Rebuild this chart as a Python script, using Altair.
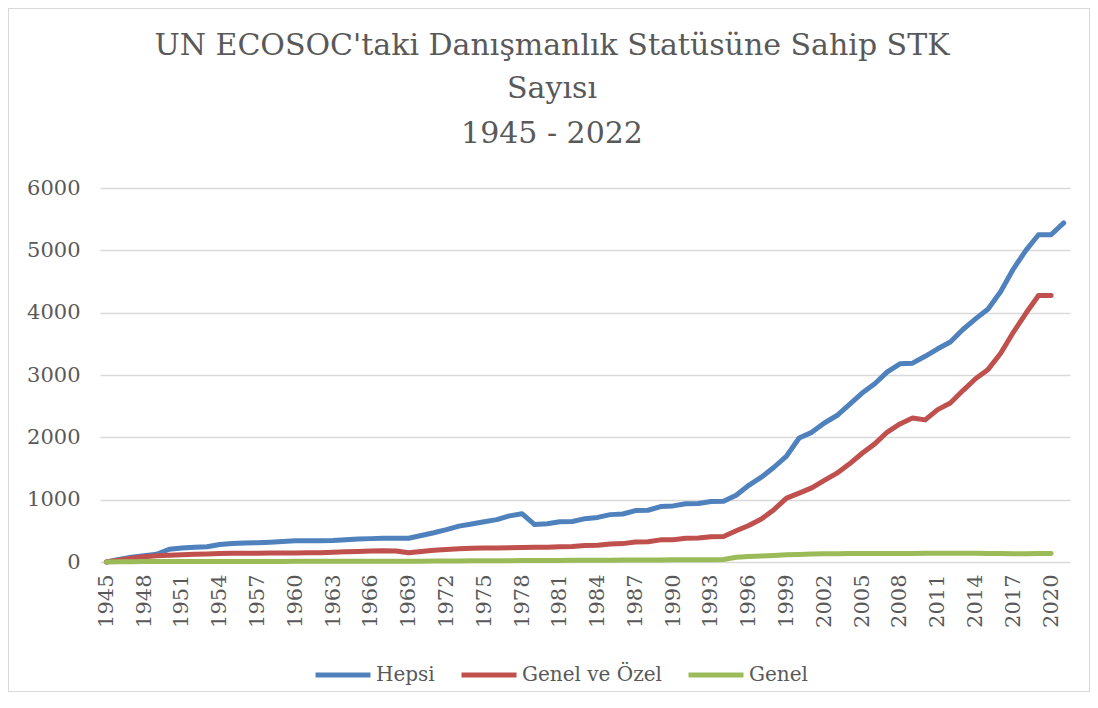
import altair as alt
import pandas as pd

years = list(range(1945, 2022))

hepsi = [0, 40, 75, 100, 125, 205, 225, 235, 245, 280,
         295, 305, 310, 318, 330, 340, 340, 340, 345, 358,
         368, 375, 382, 382, 380, 425, 470, 520, 575, 610,
         645, 680, 740, 775, 600, 615, 645, 650, 695, 715,
         760, 770, 825, 830, 890, 900, 935, 940, 970, 975,
         1070, 1230, 1360, 1520, 1700, 1990, 2080, 2230, 2350, 2530,
         2710, 2860, 3050, 3180, 3190, 3300, 3420, 3530, 3730, 3900,
         4060, 4340, 4700, 5000, 5250, 5250, 5440]

genel_ozel = [0, 30, 60, 85, 100, 108, 118, 124, 130, 135,
              140, 140, 142, 143, 145, 146, 148, 150, 157, 165,
              170, 175, 180, 178, 148, 168, 188, 200, 212, 222,
              225, 225, 230, 232, 235, 238, 245, 248, 265, 270,
              290, 295, 322, 325, 355, 358, 380, 385, 405, 410,
              500, 585, 690, 840, 1025, 1105, 1190, 1310, 1425, 1575,
              1745, 1895, 2085, 2215, 2310, 2280, 2445, 2550, 2750, 2940,
              3090, 3350, 3685, 3990, 4275, 4275]

genel = [0, 3, 5, 8, 9, 9, 9, 10, 10, 10,
         10, 10, 10, 10, 10, 11, 11, 11, 11, 12,
         12, 12, 12, 12, 12, 14, 16, 17, 18, 19,
         20, 21, 22, 23, 24, 25, 26, 27, 28, 29,
         30, 31, 32, 33, 34, 35, 36, 37, 38, 39,
         75, 88, 96, 105, 115, 122, 128, 132, 134, 135,
         137, 138, 138, 138, 138, 139, 140, 141, 142, 140,
         136, 138, 132, 134, 136, 138]

series_names = ["Hepsi", "Genel ve Özel", "Genel"]
series_colors = ["#4F81BD", "#C0504D", "#9BBB59"]
title_lines = ["UN ECOSOC'taki Danışmanlık Statüsüne Sahip STK", "Sayısı", "1945 - 2022"]
x_ticks = list(range(1945, 2021, 3))
y_ticks = [0, 1000, 2000, 3000, 4000, 5000, 6000]

frames = []
for name, vals in zip(series_names, [hepsi, genel_ozel, genel]):
    frames.append(pd.DataFrame({"Yıl": years[:len(vals)], "Sayı": vals, "Seri": name}))
df = pd.concat(frames, ignore_index=True)

FONT = "DejaVu Serif"
TXT = "#595959"
W, H = 970, 374
PAD = {"left": 92, "top": 180, "right": 20, "bottom": 130}

lines = alt.Chart(df).mark_line(strokeWidth=5, strokeCap="round", strokeJoin="round").encode(
    x=alt.X("Yıl:Q",
            scale=alt.Scale(domain=[1944.5, 2021.5], nice=False, zero=False),
            axis=alt.Axis(values=x_ticks, format="d", labelAngle=270, title=None,
                          grid=False, ticks=False, domain=False, labelPadding=12,
                          labelFontSize=21, labelFont=FONT, labelColor=TXT)),
    y=alt.Y("Sayı:Q",
            scale=alt.Scale(domain=[0, 6000], nice=False),
            axis=alt.Axis(values=y_ticks, format="d", title=None,
                          ticks=False, domain=False, labelPadding=20,
                          labelFontSize=21, labelFont=FONT, labelColor=TXT,
                          gridColor="#D9D9D9", gridWidth=1.3)),
    color=alt.Color("Seri:N",
                    scale=alt.Scale(domain=series_names, range=series_colors),
                    sort=series_names,
                    legend=alt.Legend(title=None, orient="none", direction="horizontal",
                                      columns=3, legendX=213, legendY=457,
                                      symbolType="stroke", symbolSize=3025,
                                      symbolStrokeWidth=5, labelOffset=3,
                                      columnPadding=16, padding=0,
                                      labelFontSize=20, labelFont=FONT, labelColor=TXT)),
    order=alt.Order("Yıl:Q"),
)

border = alt.Chart(df).mark_rect(fill=None, stroke="#D9D9D9", strokeWidth=1).encode(
    x=alt.value(-PAD["left"] + 0.5),
    x2=alt.value(W + PAD["right"] - 0.5),
    y=alt.value(-PAD["top"] + 0.5),
    y2=alt.value(H + PAD["bottom"] - 0.5),
)

title_y = [-133, -90, -45]
title_layers = [
    alt.Chart(pd.DataFrame({"t": [line]})).mark_text(
        font=FONT, fontSize=30, color=TXT, align="center", baseline="alphabetic"
    ).encode(text="t:N", x=alt.value(452), y=alt.value(ty))
    for line, ty in zip(title_lines, title_y)
]

chart = alt.layer(border, lines, *title_layers).properties(
    width=W,
    height=H,
    padding=PAD,
    autosize=alt.AutoSizeParams(type="none"),
).configure_view(stroke=None)

chart.save("out.html", embed_options={"renderer": "svg", "actions": False})
